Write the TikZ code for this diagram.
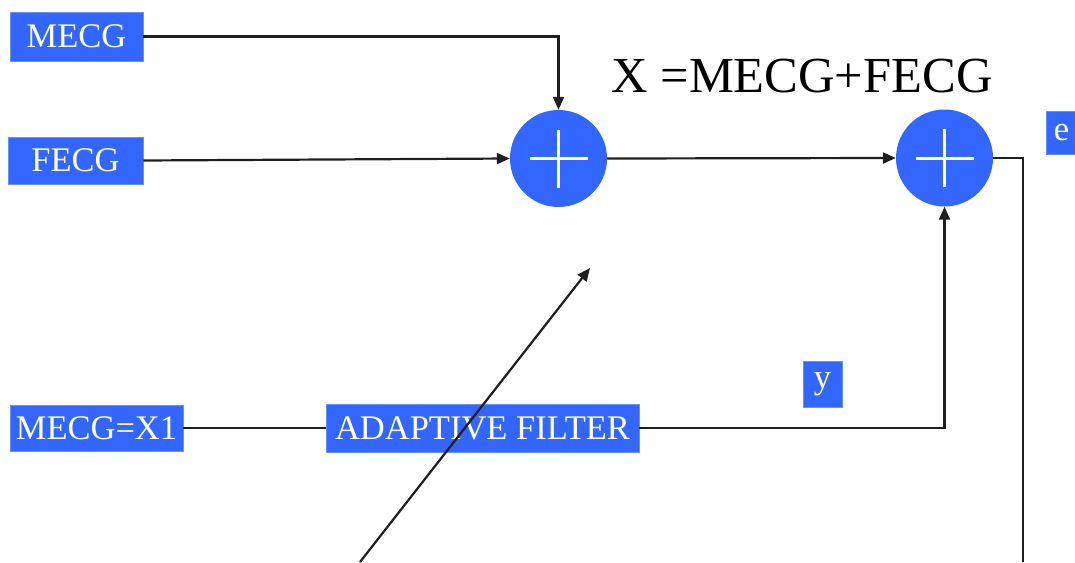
\documentclass[tikz,border=0pt]{standalone}
\usepackage{fontspec}
\setmainfont{Liberation Serif}
\usetikzlibrary{arrows.meta}
\definecolor{boxblue}{HTML}{3366FF}
\definecolor{edgeblue}{HTML}{6690FF}
\tikzset{
  bluebox/.style={fill=boxblue, draw=edgeblue, line width=0.8pt, text=white, inner sep=0pt,
    font=\rmfamily\fontsize{34.5}{38}\selectfont, anchor=center},
  sumnode/.style={circle, fill=boxblue, minimum size=97pt, inner sep=0pt},
  conn/.style={line width=2.2pt, draw=black!88},
  arr/.style={conn, -{Triangle[length=13pt,width=11pt]}},
}
\begin{document}
\begin{tikzpicture}[x=1pt,y=-1pt]
\useasboundingbox (0,0) rectangle (1075,562);
% boxes
\node[bluebox, minimum width=133pt, minimum height=49pt] (mecg) at (76.5,36.5) {MECG};
\node[bluebox, minimum width=135pt, minimum height=47pt] (fecg) at (75.5,160.5) {FECG};
\node[bluebox, minimum width=173pt, minimum height=46pt] (mx1) at (96.5,428) {MECG=X1};
\node[bluebox, minimum width=313pt, minimum height=48pt] (af) at (482.5,428) {ADAPTIVE FILTER};
\node[bluebox, minimum width=39pt, minimum height=46pt] (y) at (822.5,384) {y};
\node[bluebox, minimum width=30pt, minimum height=43pt, anchor=west] (e) at (1046,132.5) {e};
% summing junctions
\node[sumnode] (s1) at (558.5,158.5) {};
\node[sumnode] (s2) at (944.5,158) {};
\foreach \s in {s1,s2}{
  \draw[white, line width=3pt] ([xshift=-29pt]\s.center) -- ([xshift=29pt]\s.center);
  \draw[white, line width=3pt] ([yshift=-29pt]\s.center) -- ([yshift=29pt]\s.center);
}
% title
\node[font=\rmfamily\fontsize{50.5}{56}\selectfont, anchor=center] (title) at (802,76) {X =MECG+FECG};
% coordinates
\coordinate (eend) at (1023,562);
\coordinate (dstart) at (360,562);
\coordinate (dend) at (590,268);
% connectors
\draw[arr] (mecg.east) -| (s1.north);
\draw[arr] (fecg.east) -- (s1.west);
\draw[arr] (s1.east) -- (s2.west);
\draw[conn] (s2.east) -| (eend);
\draw[conn] (mx1.east) -- (af.west);
\draw[arr] (af.east) -| (s2.south);
\draw[arr] (dstart) -- (dend);
\end{tikzpicture}
\end{document}
